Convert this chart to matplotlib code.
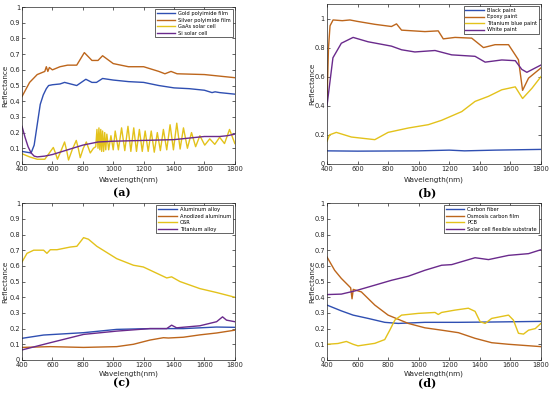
import numpy as np
import matplotlib.pyplot as plt

# ── Colours (MATLAB-like) ─────────────────────────────────────────────────────
C_BLUE = '#2F4FB2'
C_ORANGE = '#BD661C'
C_YELLOW = '#E3C21B'
C_PURPLE = '#6A2A8C'

# ── (a) polyimide films / solar cells ─────────────────────────────────────────
gold_nm = [400, 430, 460, 480, 500, 520, 540, 560, 575, 600, 650, 680, 720, 760,
           790, 820, 860, 890, 930, 1000, 1100, 1200, 1300, 1400, 1500, 1600,
           1650, 1670, 1700, 1800]
gold_r = [0.08, 0.075, 0.07, 0.12, 0.25, 0.38, 0.44, 0.48, 0.50, 0.505, 0.51,
          0.52, 0.51, 0.50, 0.52, 0.54, 0.52, 0.52, 0.545, 0.535, 0.525, 0.52,
          0.50, 0.485, 0.48, 0.47, 0.455, 0.46, 0.455, 0.445]

silver_nm = [400, 450, 500, 550, 560, 570, 580, 600, 650, 700, 760, 810, 860,
             900, 930, 1000, 1100, 1200, 1300, 1340, 1380, 1420, 1600, 1800]
silver_r = [0.43, 0.52, 0.57, 0.59, 0.62, 0.59, 0.615, 0.60, 0.62, 0.63, 0.63,
            0.71, 0.66, 0.66, 0.69, 0.64, 0.62, 0.62, 0.59, 0.575, 0.59, 0.575,
            0.57, 0.55]

gaas_nm = [400, 450, 500, 550, 580, 606, 620, 633, 655, 680, 695, 706, 730, 757,
           770, 783, 803, 823, 849, 870, 885, 893, 900, 906, 912, 918, 924, 930,
           937, 944, 951, 958, 970, 985, 1000, 1013, 1034, 1055, 1076, 1097,
           1116, 1135, 1153, 1172, 1191, 1210, 1230, 1250, 1270, 1290, 1310,
           1330, 1352, 1374, 1396, 1418, 1440, 1462, 1488, 1515, 1542, 1570,
           1602, 1635, 1668, 1700, 1732, 1765, 1800]
gaas_r = [0.065, 0.045, 0.03, 0.03, 0.07, 0.105, 0.07, 0.03, 0.08, 0.14, 0.08,
          0.025, 0.09, 0.15, 0.10, 0.04, 0.10, 0.14, 0.07, 0.10, 0.11, 0.22,
          0.10, 0.23, 0.09, 0.22, 0.08, 0.21, 0.08, 0.20, 0.09, 0.19, 0.09,
          0.18, 0.09, 0.21, 0.09, 0.23, 0.085, 0.24, 0.08, 0.23, 0.08, 0.22,
          0.08, 0.21, 0.08, 0.21, 0.075, 0.20, 0.085, 0.22, 0.09, 0.25, 0.09,
          0.26, 0.095, 0.23, 0.10, 0.20, 0.11, 0.18, 0.12, 0.16, 0.125, 0.17,
          0.13, 0.22, 0.13]

si_nm = [400, 420, 440, 460, 480, 500, 550, 600, 700, 800, 900, 1000, 1200,
         1400, 1500, 1600, 1700, 1750, 1800]
si_r = [0.24, 0.17, 0.11, 0.07, 0.05, 0.045, 0.05, 0.06, 0.09, 0.12, 0.14,
        0.145, 0.15, 0.155, 0.165, 0.175, 0.175, 0.18, 0.19]

# ── (b) paints ────────────────────────────────────────────────────────────────
black_nm = [400, 600, 1000, 1200, 1300, 1500, 1800]
black_r = [0.09, 0.088, 0.09, 0.095, 0.09, 0.095, 0.1]

epoxy_nm = [400, 410, 420, 440, 500, 550, 600, 713, 822, 855, 888, 1041, 1128,
            1161, 1238, 1347, 1424, 1500, 1588, 1653, 1680, 1719, 1800]
epoxy_r = [0.42, 0.80, 0.95, 0.99, 0.985, 0.99, 0.98, 0.96, 0.945, 0.963,
           0.92, 0.91, 0.915, 0.86, 0.87, 0.865, 0.80, 0.82, 0.82, 0.716,
           0.506, 0.59, 0.66]

tiblue_nm = [400, 417, 461, 560, 713, 800, 932, 1063, 1150, 1282, 1369, 1457,
             1544, 1632, 1680, 1741, 1800]
tiblue_r = [0.155, 0.20, 0.217, 0.185, 0.167, 0.217, 0.247, 0.27, 0.30, 0.36,
            0.43, 0.465, 0.51, 0.53, 0.45, 0.52, 0.60]

white_nm = [400, 439, 494, 571, 669, 822, 888, 975, 1107, 1216, 1369, 1435,
            1544, 1632, 1675, 1708, 1763, 1800]
white_r = [0.40, 0.73, 0.83, 0.87, 0.84, 0.81, 0.785, 0.77, 0.78, 0.75, 0.74,
           0.70, 0.715, 0.71, 0.65, 0.63, 0.66, 0.68]

# ── (c) alloys / OSR ──────────────────────────────────────────────────────────
alu_nm = [400, 542, 805, 1023, 1242, 1461, 1680, 1800]
alu_r = [0.138, 0.159, 0.174, 0.195, 0.20, 0.20, 0.21, 0.208]

anod_nm = [400, 586, 805, 1023, 1133, 1242, 1330, 1363, 1461, 1570, 1680, 1800]
anod_r = [0.08, 0.085, 0.08, 0.085, 0.10, 0.127, 0.142, 0.14, 0.145, 0.16,
          0.172, 0.19]

osr_nm = [400, 433, 477, 542, 564, 586, 630, 717, 761, 805, 837, 892, 1023,
          1133, 1198, 1352, 1384, 1439, 1570, 1680, 1800]
osr_r = [0.625, 0.68, 0.70, 0.70, 0.68, 0.703, 0.703, 0.72, 0.725, 0.78, 0.77,
         0.725, 0.646, 0.604, 0.593, 0.523, 0.53, 0.50, 0.455, 0.43, 0.40]

tialloy_nm = [400, 586, 805, 1023, 1242, 1352, 1384, 1417, 1570, 1680, 1719,
              1745, 1800]
tialloy_r = [0.064, 0.11, 0.163, 0.184, 0.20, 0.20, 0.222, 0.205, 0.218, 0.244,
             0.275, 0.254, 0.244]

# ── (d) carbon / PCB / substrate ──────────────────────────────────────────────
cfib_nm = [400, 494, 571, 669, 778, 866, 1041, 1260, 1478, 1800]
cfib_r = [0.35, 0.313, 0.286, 0.265, 0.24, 0.233, 0.24, 0.24, 0.242, 0.246]

osmo_nm = [400, 450, 494, 538, 555, 564, 572, 625, 713, 800, 932, 1041, 1150,
           1260, 1369, 1478, 1588, 1800]
osmo_r = [0.657, 0.572, 0.52, 0.477, 0.46, 0.39, 0.45, 0.434, 0.35, 0.286,
          0.233, 0.205, 0.19, 0.174, 0.138, 0.11, 0.10, 0.085]

pcb_nm = [400, 472, 527, 571, 603, 713, 778, 811, 844, 888, 997, 1107, 1128,
          1150, 1238, 1325, 1369, 1402, 1435, 1478, 1588, 1620, 1653, 1686,
          1719, 1763, 1800]
pcb_r = [0.10, 0.105, 0.118, 0.10, 0.09, 0.106, 0.13, 0.19, 0.254, 0.286,
         0.297, 0.303, 0.29, 0.303, 0.318, 0.33, 0.31, 0.244, 0.233, 0.265,
         0.286, 0.254, 0.17, 0.165, 0.19, 0.20, 0.233]

subs_nm = [400, 494, 582, 713, 822, 932, 1041, 1150, 1216, 1369, 1457, 1588,
           1719, 1800]
subs_r = [0.417, 0.42, 0.44, 0.477, 0.508, 0.534, 0.572, 0.604, 0.608, 0.652,
          0.64, 0.667, 0.678, 0.703]

# ── Figure ────────────────────────────────────────────────────────────────────
fig = plt.figure(figsize=(5.5, 3.96), dpi=100)

panels = [
    # rect, ylim, yticks, series, letter, ylabel x, xlabel y, letter y
    ([0.040, 0.586, 0.387, 0.396], 1.0, np.arange(0, 1.01, 0.1),
     [('Gold polyimide film', gold_nm, gold_r, C_BLUE),
      ('Silver polyimide film', silver_nm, silver_r, C_ORANGE),
      ('GaAs solar cell', gaas_nm, gaas_r, C_YELLOW),
      ('Si solar cell', si_nm, si_r, C_PURPLE)], '(a)', -0.08, -0.10, -0.185),
    ([0.5945, 0.586, 0.389, 0.404], 1.1, np.arange(0, 1.01, 0.2),
     [('Black paint', black_nm, black_r, C_BLUE),
      ('Epoxy paint', epoxy_nm, epoxy_r, C_ORANGE),
      ('Titanium blue paint', tiblue_nm, tiblue_r, C_YELLOW),
      ('White paint', white_nm, white_r, C_PURPLE)], '(b)', -0.07, -0.10, -0.18),
    ([0.040, 0.091, 0.387, 0.396], 1.0, np.arange(0, 1.01, 0.1),
     [('Aluminum alloy', alu_nm, alu_r, C_BLUE),
      ('Anodized aluminum', anod_nm, anod_r, C_ORANGE),
      ('OSR', osr_nm, osr_r, C_YELLOW),
      ('Titanium alloy', tialloy_nm, tialloy_r, C_PURPLE)], '(c)', -0.08, -0.09, -0.145),
    ([0.5945, 0.091, 0.389, 0.396], 1.0, np.arange(0, 1.01, 0.1),
     [('Carbon fiber', cfib_nm, cfib_r, C_BLUE),
      ('Osmosis carbon film', osmo_nm, osmo_r, C_ORANGE),
      ('PCB', pcb_nm, pcb_r, C_YELLOW),
      ('Solar cell flexible substrate', subs_nm, subs_r, C_PURPLE)], '(d)', -0.07, -0.09, -0.145),
]

for rect, ytop, yticks, series, letter, ylab_x, xlab_y, let_y in panels:
    ax = fig.add_axes(rect)
    for name, xs, ys, col in series:
        ax.plot(xs, ys, color=col, lw=1.0, label=name)
    ax.set_xlim(400, 1800)
    ax.set_ylim(0, ytop)
    ax.set_xticks(np.arange(400, 1801, 200))
    ax.set_yticks(yticks)
    ax.set_yticklabels([f'{v:g}' for v in np.round(yticks, 1)])
    ax.tick_params(direction='in', length=2, width=0.5, labelsize=4.8,
                   colors='#262626', pad=1.5, top=True, right=True)
    for sp in ax.spines.values():
        sp.set_linewidth(0.5)
        sp.set_color('#262626')
    ax.text(0.5, xlab_y, 'Wavelength(nm)', transform=ax.transAxes,
            ha='center', va='center', fontsize=5.2, color='#262626')
    ax.text(ylab_x, 0.5, 'Reflectance', transform=ax.transAxes, rotation=90,
            ha='center', va='center', fontsize=5.2, color='#262626')
    ax.text(0.47, let_y, letter, transform=ax.transAxes, ha='center',
            va='center', fontsize=8, fontweight='bold', family='DejaVu Serif')
    leg = ax.legend(loc='upper right', fontsize=3.7, handlelength=3.6,
                    handletextpad=0.6, borderpad=0.35, labelspacing=0.3,
                    borderaxespad=0.4, fancybox=False, framealpha=1)
    leg.get_frame().set_edgecolor('#262626')
    leg.get_frame().set_linewidth(0.5)

fig.savefig('out.png', dpi=100)
